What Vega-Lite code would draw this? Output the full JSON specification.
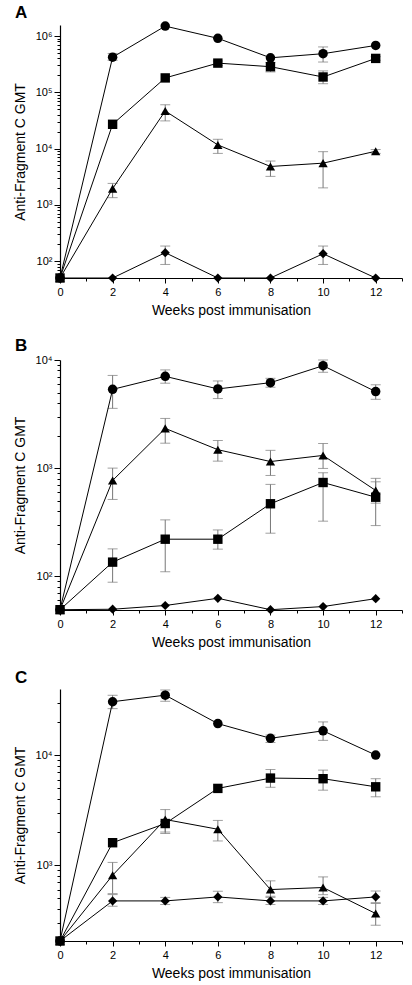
{
  "$schema": "https://vega.github.io/schema/vega-lite/v6.json",
  "padding": {"left": 13, "top": 4, "right": 2, "bottom": 2},
  "spacing": 20,
  "config": {
    "view": {"stroke": null},
    "font": "Liberation Sans",
    "axis": {"grid": false, "domainColor": "black", "domainWidth": 1.2, "tickColor": "black", "tickWidth": 1, "labelColor": "black", "titleColor": "black", "labelFontSize": 11, "titleFontSize": 14, "titleFontWeight": "normal", "labelFont": "Liberation Sans", "titleFont": "Liberation Sans"},
    "title": {"fontSize": 17, "fontWeight": "bold", "anchor": "start", "frame": "group", "dx": -45, "offset": -1, "color": "black", "font": "Liberation Sans"}
  },
  "datasets": {
    "A": [
      {"series": "S1", "week": 0, "gmt": 50},
      {"series": "S1", "week": 2, "gmt": 420000, "lo": 370000, "hi": 490000},
      {"series": "S1", "week": 4, "gmt": 1500000},
      {"series": "S1", "week": 6, "gmt": 910000},
      {"series": "S1", "week": 8, "gmt": 410000},
      {"series": "S1", "week": 10, "gmt": 485000, "lo": 345000, "hi": 640000},
      {"series": "S1", "week": 12, "gmt": 680000},
      {"series": "S2", "week": 0, "gmt": 50},
      {"series": "S2", "week": 2, "gmt": 27000},
      {"series": "S2", "week": 4, "gmt": 180000},
      {"series": "S2", "week": 6, "gmt": 330000, "lo": 300000, "hi": 360000},
      {"series": "S2", "week": 8, "gmt": 285000, "lo": 230000, "hi": 340000},
      {"series": "S2", "week": 10, "gmt": 187000, "lo": 142000, "hi": 240000},
      {"series": "S2", "week": 12, "gmt": 400000, "lo": 370000, "hi": 430000},
      {"series": "S3", "week": 0, "gmt": 50},
      {"series": "S3", "week": 2, "gmt": 1940, "lo": 1340, "hi": 2400},
      {"series": "S3", "week": 4, "gmt": 46500, "lo": 31000, "hi": 60000},
      {"series": "S3", "week": 6, "gmt": 11600, "lo": 8200, "hi": 14600},
      {"series": "S3", "week": 8, "gmt": 4800, "lo": 3200, "hi": 6000},
      {"series": "S3", "week": 10, "gmt": 5500, "lo": 2000, "hi": 8800},
      {"series": "S3", "week": 12, "gmt": 8950, "lo": 8200, "hi": 9600},
      {"series": "S4", "week": 0, "gmt": 50},
      {"series": "S4", "week": 2, "gmt": 50},
      {"series": "S4", "week": 4, "gmt": 141, "lo": 87, "hi": 185},
      {"series": "S4", "week": 6, "gmt": 50},
      {"series": "S4", "week": 8, "gmt": 50},
      {"series": "S4", "week": 10, "gmt": 135, "lo": 87, "hi": 185},
      {"series": "S4", "week": 12, "gmt": 50}
    ],
    "B": [
      {"series": "S1", "week": 0, "gmt": 49},
      {"series": "S1", "week": 2, "gmt": 5350, "lo": 3570, "hi": 7200},
      {"series": "S1", "week": 4, "gmt": 7060, "lo": 6100, "hi": 8100},
      {"series": "S1", "week": 6, "gmt": 5400, "lo": 4400, "hi": 6400},
      {"series": "S1", "week": 8, "gmt": 6170, "lo": 5600, "hi": 6770},
      {"series": "S1", "week": 10, "gmt": 8860, "lo": 7700, "hi": 10000},
      {"series": "S1", "week": 12, "gmt": 5100, "lo": 4330, "hi": 5900},
      {"series": "S2", "week": 0, "gmt": 49},
      {"series": "S2", "week": 2, "gmt": 135, "lo": 88, "hi": 179},
      {"series": "S2", "week": 4, "gmt": 220, "lo": 110, "hi": 332},
      {"series": "S2", "week": 6, "gmt": 220, "lo": 178, "hi": 268},
      {"series": "S2", "week": 8, "gmt": 468, "lo": 250, "hi": 707},
      {"series": "S2", "week": 10, "gmt": 736, "lo": 323, "hi": 906},
      {"series": "S2", "week": 12, "gmt": 538, "lo": 294, "hi": 747},
      {"series": "S3", "week": 0, "gmt": 49},
      {"series": "S3", "week": 2, "gmt": 769, "lo": 513, "hi": 1000},
      {"series": "S3", "week": 4, "gmt": 2330, "lo": 1700, "hi": 2880},
      {"series": "S3", "week": 6, "gmt": 1480, "lo": 1160, "hi": 1800},
      {"series": "S3", "week": 8, "gmt": 1150, "lo": 855, "hi": 1460},
      {"series": "S3", "week": 10, "gmt": 1310, "lo": 993, "hi": 1690},
      {"series": "S3", "week": 12, "gmt": 621, "lo": 474, "hi": 804},
      {"series": "S4", "week": 0, "gmt": 49},
      {"series": "S4", "week": 2, "gmt": 49.5},
      {"series": "S4", "week": 4, "gmt": 53.6},
      {"series": "S4", "week": 6, "gmt": 62.5},
      {"series": "S4", "week": 8, "gmt": 49},
      {"series": "S4", "week": 10, "gmt": 52.4},
      {"series": "S4", "week": 12, "gmt": 62}
    ],
    "C": [
      {"series": "S1", "week": 0, "gmt": 205},
      {"series": "S1", "week": 2, "gmt": 30500, "lo": 26400, "hi": 34900},
      {"series": "S1", "week": 4, "gmt": 35000, "lo": 30800, "hi": 39000},
      {"series": "S1", "week": 6, "gmt": 19300},
      {"series": "S1", "week": 8, "gmt": 14200, "lo": 13000, "hi": 15200},
      {"series": "S1", "week": 10, "gmt": 16600, "lo": 13600, "hi": 20000},
      {"series": "S1", "week": 12, "gmt": 10000},
      {"series": "S2", "week": 0, "gmt": 205},
      {"series": "S2", "week": 2, "gmt": 1600},
      {"series": "S2", "week": 4, "gmt": 2390, "lo": 1940, "hi": 2500},
      {"series": "S2", "week": 6, "gmt": 4980},
      {"series": "S2", "week": 8, "gmt": 6180, "lo": 5100, "hi": 7400},
      {"series": "S2", "week": 10, "gmt": 6100, "lo": 4800, "hi": 7300},
      {"series": "S2", "week": 12, "gmt": 5150, "lo": 4180, "hi": 6100},
      {"series": "S3", "week": 0, "gmt": 205},
      {"series": "S3", "week": 2, "gmt": 811, "lo": 552, "hi": 1060},
      {"series": "S3", "week": 4, "gmt": 2600, "lo": 2000, "hi": 3200},
      {"series": "S3", "week": 6, "gmt": 2120, "lo": 1660, "hi": 2550},
      {"series": "S3", "week": 8, "gmt": 601, "lo": 522, "hi": 721},
      {"series": "S3", "week": 10, "gmt": 627, "lo": 540, "hi": 783},
      {"series": "S3", "week": 12, "gmt": 364, "lo": 285, "hi": 449},
      {"series": "S4", "week": 0, "gmt": 205},
      {"series": "S4", "week": 2, "gmt": 474, "lo": 424, "hi": 541},
      {"series": "S4", "week": 4, "gmt": 474, "lo": 440, "hi": 510},
      {"series": "S4", "week": 6, "gmt": 515, "lo": 457, "hi": 580},
      {"series": "S4", "week": 8, "gmt": 474, "lo": 440, "hi": 510},
      {"series": "S4", "week": 10, "gmt": 474, "lo": 440, "hi": 510},
      {"series": "S4", "week": 12, "gmt": 515, "lo": 457, "hi": 583}
    ]
  },
  "vconcat": [
    {
      "title": {"text": "A"},
      "width": 342, "height": 253,
      "data": {"name": "A"},
      "encoding": {
        "x": {"field": "week", "type": "quantitative", "scale": {"domain": [0, 13], "nice": false}, "axis": {"values": [0,1,2,3,4,5,6,7,8,9,10,11,12,13], "labelExpr": "datum.value % 2 == 0 && datum.value < 13 ? datum.label : ''", "labelOverlap": false, "labelFlush": false, "tickSize": {"condition": {"test": "datum.value % 2 == 1", "value": 3}, "value": 5}, "labelPadding": 3, "title": "Weeks post immunisation", "titlePadding": 6}}
      },
      "layer": [
        {"transform": [{"filter": "isValid(datum.lo)"}], "mark": {"type": "rule", "color": "#777", "strokeWidth": 1},
         "encoding": {"y": {"field": "lo", "type": "quantitative", "title": "Anti-Fragment C GMT"}, "y2": {"field": "hi"}}},
        {"transform": [{"filter": "isValid(datum.lo)"}], "mark": {"type": "tick", "orient": "horizontal", "color": "#777", "size": 10, "thickness": 1},
         "encoding": {"y": {"field": "lo", "type": "quantitative", "title": "Anti-Fragment C GMT"}}},
        {"transform": [{"filter": "isValid(datum.hi)"}], "mark": {"type": "tick", "orient": "horizontal", "color": "#777", "size": 10, "thickness": 1},
         "encoding": {"y": {"field": "hi", "type": "quantitative", "title": "Anti-Fragment C GMT"}}},
        {"mark": {"type": "line", "color": "black", "strokeWidth": 1},
         "encoding": {"y": {"field": "gmt", "type": "quantitative", "title": "Anti-Fragment C GMT"}, "detail": {"field": "series"}}},
        {"mark": {"type": "point", "filled": true, "color": "black", "opacity": 1},
         "encoding": {
           "y": {"field": "gmt", "type": "quantitative", "title": "Anti-Fragment C GMT",
                 "scale": {"type": "log", "domain": [50, 1570000], "nice": false},
                 "axis": {"values": [60,70,80,90,100,200,300,400,500,600,700,800,900,1000,2000,3000,4000,5000,6000,7000,8000,9000,10000,20000,30000,40000,50000,60000,70000,80000,90000,100000,200000,300000,400000,500000,600000,700000,800000,900000,1000000],
                          "labelExpr": "indexof([100,1000,10000,100000,1000000], datum.value) >= 0 ? '10' + ['','','²','³','⁴','⁵','⁶'][round(log(datum.value)/LN10)] : ''",
                          "labelOverlap": false, "labelPadding": 2, "titlePadding": 8,
                          "tickSize": {"condition": {"test": "indexof([100,1000,10000,100000,1000000], datum.value) >= 0", "value": 6}, "value": 3}}},
           "shape": {"field": "series", "scale": {"domain": ["S1","S2","S3","S4"], "range": ["circle","square","triangle-up","diamond"]}, "legend": null},
           "size": {"field": "series", "scale": {"domain": ["S1","S2","S3","S4"], "range": [90,85,140,130]}, "legend": null}
         }}
      ]
    },
    {
      "title": {"text": "B"},
      "width": 342, "height": 250,
      "data": {"name": "B"},
      "encoding": {
        "x": {"field": "week", "type": "quantitative", "scale": {"domain": [0, 13], "nice": false}, "axis": {"values": [0,1,2,3,4,5,6,7,8,9,10,11,12,13], "labelExpr": "datum.value % 2 == 0 && datum.value < 13 ? datum.label : ''", "labelOverlap": false, "labelFlush": false, "tickSize": {"condition": {"test": "datum.value % 2 == 1", "value": 3}, "value": 5}, "labelPadding": 3, "title": "Weeks post immunisation", "titlePadding": 6}}
      },
      "layer": [
        {"transform": [{"filter": "isValid(datum.lo)"}], "mark": {"type": "rule", "color": "#777", "strokeWidth": 1},
         "encoding": {"y": {"field": "lo", "type": "quantitative", "title": "Anti-Fragment C GMT"}, "y2": {"field": "hi"}}},
        {"transform": [{"filter": "isValid(datum.lo)"}], "mark": {"type": "tick", "orient": "horizontal", "color": "#777", "size": 10, "thickness": 1},
         "encoding": {"y": {"field": "lo", "type": "quantitative", "title": "Anti-Fragment C GMT"}}},
        {"transform": [{"filter": "isValid(datum.hi)"}], "mark": {"type": "tick", "orient": "horizontal", "color": "#777", "size": 10, "thickness": 1},
         "encoding": {"y": {"field": "hi", "type": "quantitative", "title": "Anti-Fragment C GMT"}}},
        {"mark": {"type": "line", "color": "black", "strokeWidth": 1},
         "encoding": {"y": {"field": "gmt", "type": "quantitative", "title": "Anti-Fragment C GMT"}, "detail": {"field": "series"}}},
        {"mark": {"type": "point", "filled": true, "color": "black", "opacity": 1},
         "encoding": {
           "y": {"field": "gmt", "type": "quantitative", "title": "Anti-Fragment C GMT",
                 "scale": {"type": "log", "domain": [48.7, 10000], "nice": false},
                 "axis": {"values": [50,60,70,80,90,100,200,300,400,500,600,700,800,900,1000,2000,3000,4000,5000,6000,7000,8000,9000,10000],
                          "labelExpr": "indexof([100,1000,10000,100000,1000000], datum.value) >= 0 ? '10' + ['','','²','³','⁴','⁵','⁶'][round(log(datum.value)/LN10)] : ''",
                          "labelOverlap": false, "labelPadding": 2, "titlePadding": 8,
                          "tickSize": {"condition": {"test": "indexof([100,1000,10000,100000,1000000], datum.value) >= 0", "value": 6}, "value": 3}}},
           "shape": {"field": "series", "scale": {"domain": ["S1","S2","S3","S4"], "range": ["circle","square","triangle-up","diamond"]}, "legend": null},
           "size": {"field": "series", "scale": {"domain": ["S1","S2","S3","S4"], "range": [90,85,140,130]}, "legend": null}
         }}
      ]
    },
    {
      "title": {"text": "C", "offset": 2},
      "width": 342, "height": 252,
      "data": {"name": "C"},
      "encoding": {
        "x": {"field": "week", "type": "quantitative", "scale": {"domain": [0, 13], "nice": false}, "axis": {"values": [0,1,2,3,4,5,6,7,8,9,10,11,12,13], "labelExpr": "datum.value % 2 == 0 && datum.value < 13 ? datum.label : ''", "labelOverlap": false, "labelFlush": false, "tickSize": {"condition": {"test": "datum.value % 2 == 1", "value": 3}, "value": 5}, "labelPadding": 3, "title": "Weeks post immunisation", "titlePadding": 6}}
      },
      "layer": [
        {"transform": [{"filter": "isValid(datum.lo)"}], "mark": {"type": "rule", "color": "#777", "strokeWidth": 1},
         "encoding": {"y": {"field": "lo", "type": "quantitative", "title": "Anti-Fragment C GMT"}, "y2": {"field": "hi"}}},
        {"transform": [{"filter": "isValid(datum.lo)"}], "mark": {"type": "tick", "orient": "horizontal", "color": "#777", "size": 10, "thickness": 1},
         "encoding": {"y": {"field": "lo", "type": "quantitative", "title": "Anti-Fragment C GMT"}}},
        {"transform": [{"filter": "isValid(datum.hi)"}], "mark": {"type": "tick", "orient": "horizontal", "color": "#777", "size": 10, "thickness": 1},
         "encoding": {"y": {"field": "hi", "type": "quantitative", "title": "Anti-Fragment C GMT"}}},
        {"mark": {"type": "line", "color": "black", "strokeWidth": 1},
         "encoding": {"y": {"field": "gmt", "type": "quantitative", "title": "Anti-Fragment C GMT"}, "detail": {"field": "series"}}},
        {"mark": {"type": "point", "filled": true, "color": "black", "opacity": 1},
         "encoding": {
           "y": {"field": "gmt", "type": "quantitative", "title": "Anti-Fragment C GMT",
                 "scale": {"type": "log", "domain": [205, 39800], "nice": false},
                 "axis": {"values": [300,400,500,600,700,800,900,1000,2000,3000,4000,5000,6000,7000,8000,9000,10000,20000,30000],
                          "labelExpr": "indexof([100,1000,10000,100000,1000000], datum.value) >= 0 ? '10' + ['','','²','³','⁴','⁵','⁶'][round(log(datum.value)/LN10)] : ''",
                          "labelOverlap": false, "labelPadding": 2, "titlePadding": 8,
                          "tickSize": {"condition": {"test": "indexof([100,1000,10000,100000,1000000], datum.value) >= 0", "value": 6}, "value": 3}}},
           "shape": {"field": "series", "scale": {"domain": ["S1","S2","S3","S4"], "range": ["circle","square","triangle-up","diamond"]}, "legend": null},
           "size": {"field": "series", "scale": {"domain": ["S1","S2","S3","S4"], "range": [90,85,140,130]}, "legend": null}
         }}
      ]
    }
  ]
}
